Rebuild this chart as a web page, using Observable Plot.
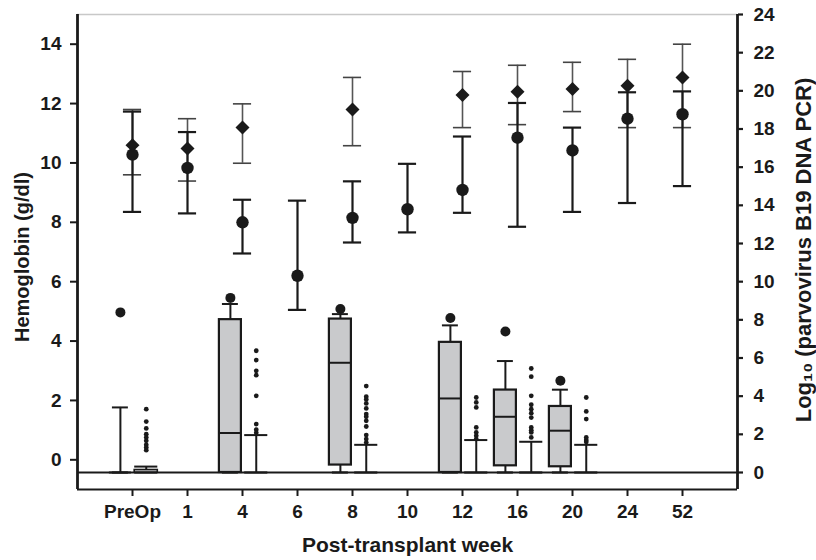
<!DOCTYPE html>
<html><head><meta charset="utf-8">
<script src="https://cdn.jsdelivr.net/npm/d3@7"></script>
<script src="https://cdn.jsdelivr.net/npm/@observablehq/plot@0.6"></script>
<style>
body{margin:0;background:#fff;}
#chart{width:816px;height:560px;}
</style></head><body><div id="chart"></div>
<script>
// ---- categories / ticks ----
const weeks = ["PreOp","1","4","6","8","10","12","16","20","24","52"];
const leftTicks = [0,2,4,6,8,10,12,14];
const rightTicks = [0,2,4,6,8,10,12,14,16,18,20,22,24];

// ---- hemoglobin (g/dl), left axis ----
const diamondMean = [10.6, 10.49, 11.19, null, 11.8, null, 12.29, 12.4, 12.49, 12.6, 12.88];
const diamondLow  = [9.6, 9.39, 9.99, null, 10.58, null, 11.19, 11.29, 11.73, 11.19, 11.19];
const diamondHigh = [11.8, 11.49, 11.99, null, 12.88, null, 13.08, 13.29, 13.39, 13.49, 14.0];
const circleMean  = [10.28, 9.83, 8.0, 6.2, 8.15, 8.44, 9.09, 10.85, 10.42, 11.49, 11.64];
const circleLow   = [8.35, 8.30, 6.95, 5.05, 7.32, 7.66, 8.32, 7.85, 8.35, 8.65, 9.22];
const circleHigh  = [11.73, 11.04, 8.76, 8.73, 9.38, 9.97, 10.89, 12.02, 11.19, 12.38, 12.41];

// ---- log10 parvovirus B19 DNA PCR, right axis (box plots) ----
const boxWeeks   = ["PreOp","4","8","12","16","20"];
const aQ1        = [0, 0, 0.39, 0, 0.35, 0.3];
const aMedian    = [0, 2.07, 5.75, 3.88, 2.92, 2.19];
const aQ3        = [0, 8.01, 8.04, 6.82, 4.32, 3.46];
const aWhiskHigh = [3.41, 8.83, 8.3, 7.71, 5.84, 4.34];
const aWhiskLow  = [0, 0, 0, 0, 0, 0];
const aOutlier   = [8.39, 9.15, 8.57, 8.1, 7.39, 4.81];
const bQ1        = [0, 0, 0, 0, 0, 0];
const bQ3        = [0.13, 0, 0, 0, 0, 0];
const bWhiskHigh = [0.31, 1.96, 1.45, 1.7, 1.61, 1.45];
const bWhiskLow  = [0, 0, 0, 0, 0, 0];
const bOutliers  = [
  [3.32, 2.67, 2.31, 2.01, 1.84, 1.66, 1.45, 1.31, 1.17],
  [6.38, 5.89, 5.33, 5.1, 4.02, 2.54, 2.24, 2.08],
  [4.53, 3.97, 3.83, 3.62, 3.36, 3.06, 2.92, 2.71, 2.41, 1.96, 1.75, 1.57],
  [3.93, 3.67, 3.41, 2.36, 2.1, 1.92, 1.75],
  [5.45, 5.02, 4.02, 3.55, 3.32, 3.11, 2.88, 2.36, 2.22, 2.1, 1.84],
  [3.93, 3.2, 2.8, 1.84, 1.7, 1.6]
];

// ---- scale mapping between the two y axes ----
const R_MIN = -0.891, R_MAX = 24, L_MIN = -1, L_MAX = 15;
const toLeft = r => L_MIN + (r - R_MIN) * (L_MAX - L_MIN) / (R_MAX - R_MIN);
const fromLeft = l => R_MIN + (l - L_MIN) * (R_MAX - R_MIN) / (L_MAX - L_MIN);

// ---- tables ----
const diamonds = weeks.map((w, i) => ({i, m: diamondMean[i], lo: diamondLow[i], hi: diamondHigh[i]})).filter(d => d.m != null);
const circles = weeks.map((w, i) => ({i, m: circleMean[i], lo: circleLow[i], hi: circleHigh[i]}));
const boxA = boxWeeks.map((w, k) => ({i: weeks.indexOf(w), q1: aQ1[k], med: aMedian[k], q3: aQ3[k], wh: aWhiskHigh[k], wl: aWhiskLow[k], out: aOutlier[k]}));
const boxB = boxWeeks.map((w, k) => ({i: weeks.indexOf(w), q1: bQ1[k], q3: bQ3[k], wh: bWhiskHigh[k], wl: bWhiskLow[k]}));
const outB = boxWeeks.flatMap((w, k) => bOutliers[k].map(v => ({i: weeks.indexOf(w), v})));

// styling constants
const OA = -0.22, OB = 0.25;     // group offsets (x units)
const BWA = 0.2, CWA = 0.145;    // half box width / half cap width group A
const BWB = 0.21, CWB = 0.21;    // group B
const EC = 0.165;                // error-bar cap half width
const INK = "#1a1a1a";

const marks = [
  // frame
  Plot.ruleY([L_MAX], {stroke: "#c8c8c8", strokeWidth: 1.5}),
  Plot.ruleY([L_MIN], {stroke: INK, strokeWidth: 2.2}),
  Plot.ruleY([toLeft(0)], {stroke: INK, strokeWidth: 2}),
  Plot.ruleX([-1, 11], {stroke: INK, strokeWidth: 2.8}),

  // box plots group A
  Plot.ruleX(boxA, {x: d => d.i + OA, y1: d => toLeft(d.q3), y2: d => toLeft(d.wh), stroke: INK, strokeWidth: 2}),
  Plot.ruleX(boxA, {x: d => d.i + OA, y1: d => toLeft(d.wl), y2: d => toLeft(d.q1), stroke: INK, strokeWidth: 2}),
  Plot.ruleY(boxA, {y: d => toLeft(d.wh), x1: d => d.i + OA - CWA, x2: d => d.i + OA + CWA, stroke: INK, strokeWidth: 2}),
  Plot.ruleY(boxA, {y: d => toLeft(d.wl), x1: d => d.i + OA - CWA, x2: d => d.i + OA + CWA, stroke: INK, strokeWidth: 2.2}),
  Plot.rect(boxA, {x1: d => d.i + OA - BWA, x2: d => d.i + OA + BWA, y1: d => toLeft(d.q1), y2: d => toLeft(d.q3), fill: "#c9cacc", stroke: INK, strokeWidth: 2.2}),
  Plot.ruleY(boxA, {y: d => toLeft(d.med), x1: d => d.i + OA - BWA, x2: d => d.i + OA + BWA, stroke: INK, strokeWidth: 2}),
  Plot.dot(boxA, {x: d => d.i + OA, y: d => toLeft(d.out), r: 5, fill: INK, stroke: "none"}),

  // box plots group B
  Plot.ruleX(boxB, {x: d => d.i + OB, y1: d => toLeft(d.q3), y2: d => toLeft(d.wh), stroke: INK, strokeWidth: 2}),
  Plot.ruleY(boxB, {y: d => toLeft(d.wh), x1: d => d.i + OB - CWB, x2: d => d.i + OB + CWB, stroke: INK, strokeWidth: 2}),
  Plot.ruleY(boxB, {y: d => toLeft(d.wl), x1: d => d.i + OB - CWB, x2: d => d.i + OB + CWB, stroke: INK, strokeWidth: 2.2}),
  Plot.rect(boxB, {x1: d => d.i + OB - BWB, x2: d => d.i + OB + BWB, y1: d => toLeft(d.q1), y2: d => toLeft(d.q3), fill: "#c9cacc", stroke: INK, strokeWidth: 1.6}),
  Plot.dot(outB, {x: d => d.i + OB, y: d => toLeft(d.v), r: 2.4, fill: INK, stroke: "none"}),

  // hemoglobin error bars
  Plot.ruleX(diamonds, {x: "i", y1: "lo", y2: "hi", stroke: "#555", strokeWidth: 1.6}),
  Plot.ruleY(diamonds, {y: "lo", x1: d => d.i - EC, x2: d => d.i + EC, stroke: "#444", strokeWidth: 1.6}),
  Plot.ruleY(diamonds, {y: "hi", x1: d => d.i - EC, x2: d => d.i + EC, stroke: "#444", strokeWidth: 1.6}),
  Plot.ruleX(circles, {x: "i", y1: "lo", y2: "hi", stroke: INK, strokeWidth: 2.2}),
  Plot.ruleY(circles, {y: "lo", x1: d => d.i - EC, x2: d => d.i + EC, stroke: INK, strokeWidth: 2.2}),
  Plot.ruleY(circles, {y: "hi", x1: d => d.i - EC, x2: d => d.i + EC, stroke: INK, strokeWidth: 2.2}),
  Plot.dot(circles, {x: "i", y: "m", r: 6.2, fill: INK, stroke: "none"}),
  Plot.dot(diamonds, {x: "i", y: "m", r: 6.3, symbol: "diamond2", fill: INK, stroke: "none"}),

  // axes
  Plot.axisX(d3.range(weeks.length), {anchor: "bottom", tickSize: 7, tickPadding: 8, strokeWidth: 2, fontSize: 19, tickFormat: i => weeks[i], label: null}),
  Plot.axisY(leftTicks, {anchor: "left", tickSize: 7, tickPadding: 9, strokeWidth: 2, fontSize: 19, label: null}),
  Plot.axisY(rightTicks.map(toLeft), {anchor: "right", tickSize: 5, tickPadding: 11, strokeWidth: 2.2, fontSize: 19, tickFormat: d => Math.round(fromLeft(d)), label: null}),

  // axis titles
  Plot.text(["Post-transplant week"], {frameAnchor: "bottom", textAnchor: "middle", dy: 62, fontSize: 21, fill: INK}),
  Plot.text(["Hemoglobin (g/dl)"], {frameAnchor: "left", textAnchor: "middle", dx: -55, dy: 5, rotate: -90, fontSize: 20, fill: INK}),
  Plot.text(["Log₁₀ (parvovirus B19 DNA PCR)"], {frameAnchor: "right", textAnchor: "middle", dx: 66, dy: -2, rotate: -90, fontSize: 22, fill: INK})
];

const chart = Plot.plot({
  width: 816, height: 560,
  marginLeft: 77, marginRight: 79, marginTop: 14, marginBottom: 71,
  x: {type: "linear", domain: [-1, 11], axis: null},
  y: {type: "linear", domain: [L_MIN, L_MAX], axis: null},
  style: {fontFamily: "'Liberation Sans', Arial, sans-serif", fontWeight: "bold", fontSize: "18px", color: INK, background: "#fff", overflow: "visible"},
  marks
});
document.getElementById("chart").appendChild(chart);
</script></body></html>
